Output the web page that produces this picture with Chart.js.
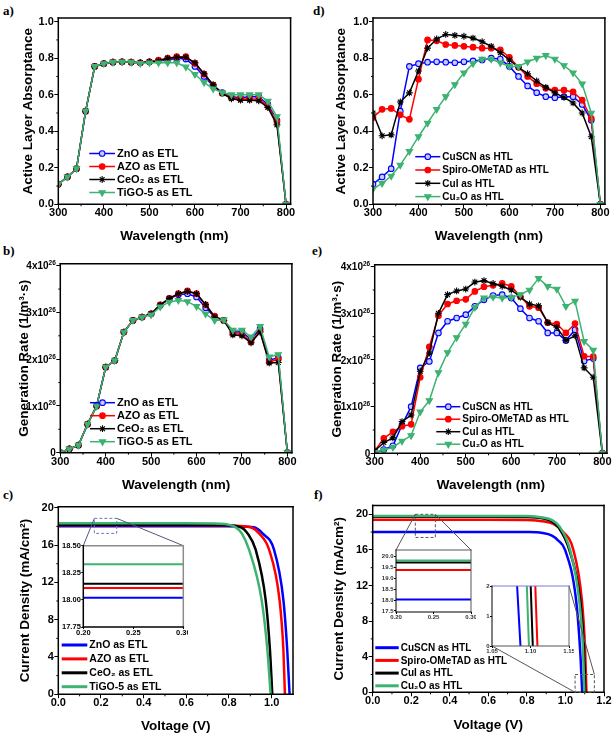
<!DOCTYPE html>
<html lang="en">
<head>
  <meta charset="UTF-8" />
  <meta name="viewport" content="width=device-width, initial-scale=1.0" />
  <title>ETL / HTL comparison: absorptance, generation rate, J-V</title>
  <style>
    body {
      margin: 0;
      width: 614px;
      height: 735px;
      overflow: hidden;
      position: relative;
      background: #fff;
    }
    canvas { position: absolute; }
    .tag {
      position: absolute;
      font: bold 13px 'Liberation Serif', 'Times New Roman', serif;
      line-height: 1;
      color: #000;
    }
  </style>
</head>
<body>
  <div class="tag" style="left:3px;top:4px">a)</div>
  <div class="tag" style="left:3px;top:244px">b)</div>
  <div class="tag" style="left:3px;top:488px">c)</div>
  <div class="tag" style="left:313px;top:4px">d)</div>
  <div class="tag" style="left:312px;top:244px">e)</div>
  <div class="tag" style="left:314px;top:488px">f)</div>

  <script src="https://cdn.jsdelivr.net/npm/chart.js"></script>
  <script>
    Chart.defaults.font.family = "'Liberation Sans', Arial, Helvetica, sans-serif";
    Chart.defaults.color = '#000';

    // ---------- data ----------
    const wavelength = [300, 320, 340, 360, 380, 400, 420, 440, 460, 480, 500, 520, 540, 560, 580, 600, 620, 640, 660, 680, 700, 720, 740, 760, 780, 800];

    // a) active layer absorptance, ETL variants
    const absZnO  = [0.11, 0.15, 0.195, 0.51, 0.755, 0.77, 0.778, 0.78, 0.778, 0.775, 0.78, 0.785, 0.79, 0.80, 0.795, 0.755, 0.70, 0.648, 0.611, 0.589, 0.584, 0.589, 0.589, 0.547, 0.46, 0];
    const absAZO  = [0.11, 0.15, 0.195, 0.51, 0.755, 0.77, 0.778, 0.78, 0.778, 0.775, 0.78, 0.79, 0.80, 0.808, 0.808, 0.772, 0.713, 0.653, 0.608, 0.584, 0.577, 0.577, 0.575, 0.538, 0.45, 0];
    const absCeO2 = [0.11, 0.15, 0.195, 0.51, 0.755, 0.77, 0.778, 0.78, 0.778, 0.775, 0.78, 0.785, 0.80, 0.805, 0.805, 0.775, 0.715, 0.655, 0.607, 0.578, 0.570, 0.570, 0.567, 0.53, 0.435, 0];
    const absTiGO = [0.11, 0.15, 0.195, 0.51, 0.755, 0.77, 0.778, 0.78, 0.778, 0.772, 0.775, 0.775, 0.775, 0.775, 0.752, 0.712, 0.667, 0.632, 0.612, 0.60, 0.60, 0.60, 0.60, 0.565, 0.48, 0];

    // d) active layer absorptance, HTL variants
    const absCuSCN = [0.11, 0.15, 0.195, 0.51, 0.755, 0.77, 0.778, 0.78, 0.778, 0.775, 0.78, 0.785, 0.79, 0.80, 0.795, 0.755, 0.70, 0.648, 0.611, 0.589, 0.584, 0.589, 0.589, 0.547, 0.46, 0];
    const absSpiro = [0.475, 0.52, 0.525, 0.49, 0.465, 0.685, 0.90, 0.895, 0.875, 0.87, 0.865, 0.86, 0.855, 0.855, 0.845, 0.805, 0.75, 0.70, 0.66, 0.635, 0.625, 0.625, 0.615, 0.57, 0.47, 0];
    const absCuI   = [0.50, 0.375, 0.38, 0.56, 0.61, 0.73, 0.855, 0.905, 0.93, 0.925, 0.92, 0.91, 0.89, 0.865, 0.83, 0.79, 0.75, 0.715, 0.675, 0.64, 0.61, 0.585, 0.555, 0.50, 0.37, 0];
    const absCu2O  = [0.085, 0.115, 0.155, 0.215, 0.29, 0.37, 0.445, 0.52, 0.59, 0.655, 0.72, 0.77, 0.795, 0.795, 0.775, 0.755, 0.755, 0.78, 0.80, 0.815, 0.795, 0.76, 0.72, 0.66, 0.50, 0];

    // b) generation rate, ETL variants (units of 1e26 1/m3s)
    const genZnO  = [0, 0.08, 0.16, 0.61, 1.0, 1.83, 1.97, 2.58, 2.83, 2.90, 2.97, 3.15, 3.29, 3.38, 3.40, 3.33, 3.10, 2.90, 2.83, 2.58, 2.58, 2.42, 2.65, 1.98, 2.03, 0];
    const genAZO  = [0, 0.08, 0.16, 0.61, 1.0, 1.83, 1.97, 2.58, 2.83, 2.90, 2.97, 3.16, 3.30, 3.40, 3.46, 3.40, 3.16, 2.92, 2.83, 2.55, 2.53, 2.37, 2.60, 1.94, 2.00, 0];
    const genCeO2 = [0, 0.08, 0.16, 0.61, 1.0, 1.83, 1.97, 2.58, 2.83, 2.90, 2.97, 3.16, 3.30, 3.40, 3.45, 3.40, 3.17, 2.90, 2.83, 2.52, 2.50, 2.35, 2.58, 1.92, 1.93, 0];
    const genTiGO = [0, 0.08, 0.16, 0.61, 1.0, 1.83, 1.97, 2.58, 2.83, 2.90, 2.95, 3.12, 3.22, 3.26, 3.23, 3.13, 2.97, 2.83, 2.84, 2.62, 2.62, 2.48, 2.70, 2.05, 2.10, 0];

    // e) generation rate, HTL variants (units of 1e26 1/m3s)
    const genCuSCN = [0, 0.08, 0.16, 0.61, 1.0, 1.83, 1.97, 2.58, 2.83, 2.90, 2.97, 3.15, 3.29, 3.38, 3.40, 3.33, 3.10, 2.90, 2.83, 2.58, 2.58, 2.42, 2.65, 1.98, 2.03, 0];
    const genSpiro = [0.05, 0.32, 0.46, 0.58, 0.62, 1.63, 2.28, 2.95, 3.20, 3.27, 3.30, 3.47, 3.57, 3.60, 3.64, 3.58, 3.36, 3.15, 3.12, 2.80, 2.77, 2.58, 2.78, 2.08, 2.07, 0];
    const genCuI   = [0.05, 0.23, 0.33, 0.68, 0.82, 1.76, 2.15, 3.00, 3.40, 3.48, 3.52, 3.67, 3.70, 3.64, 3.58, 3.50, 3.35, 3.20, 3.16, 2.80, 2.70, 2.42, 2.52, 1.83, 1.63, 0];
    const genCu2O  = [0.02, 0.07, 0.13, 0.26, 0.38, 0.89, 1.13, 1.73, 2.16, 2.48, 2.77, 3.13, 3.33, 3.35, 3.33, 3.34, 3.40, 3.50, 3.75, 3.58, 3.52, 3.15, 3.26, 2.40, 2.21, 0];

    // c) J-V curves, ETL variants (V, mA/cm2)
    const vZnO  = [0, 0.3, 0.6, 0.84, 0.918, 0.957, 1.011, 1.055, 1.073, 1.084];
    const jZnO  = [18.02, 18.02, 18.02, 18.0, 17.9, 17.25, 15.5, 10.1, 4.75, 0];
    const vAZO  = [0, 0.3, 0.6, 0.82, 0.902, 0.941, 0.988, 1.037, 1.055, 1.062];
    const jAZO  = [18.11, 18.11, 18.11, 18.08, 17.9, 17.25, 15.5, 10.1, 4.75, 0];
    const vCeO2 = [0, 0.3, 0.6, 0.78, 0.856, 0.887, 0.925, 0.972, 0.992, 1.003];
    const jCeO2 = [18.15, 18.15, 18.15, 18.12, 17.9, 17.25, 15.5, 10.1, 4.75, 0];
    const vTiGO = [0, 0.3, 0.6, 0.76, 0.832, 0.86, 0.894, 0.953, 0.98, 0.995];
    const jTiGO = [18.33, 18.33, 18.33, 18.29, 17.9, 17.25, 15.5, 10.1, 4.75, 0];

    // f) J-V curves, HTL variants (V, mA/cm2)
    const vCuSCN = [0, 0.3, 0.6, 0.8, 0.88, 0.93, 0.96, 0.998, 1.055, 1.076, 1.087];
    const jCuSCN = [18.02, 18.02, 18.02, 18.0, 17.9, 17.6, 17.1, 16.0, 10.4, 4.8, 0];
    const vSpiro = [0, 0.3, 0.6, 0.8, 0.89, 0.94, 0.98, 1.041, 1.085, 1.102, 1.109];
    const jSpiro = [19.38, 19.38, 19.38, 19.36, 19.2, 18.9, 18.2, 16.0, 10.4, 4.8, 0];
    const vCuI   = [0, 0.3, 0.6, 0.8, 0.88, 0.93, 0.965, 1.02, 1.076, 1.096, 1.103];
    const jCuI   = [19.73, 19.73, 19.73, 19.7, 19.55, 19.2, 18.5, 16.0, 10.4, 4.8, 0];
    const vCu2O  = [0, 0.3, 0.6, 0.8, 0.88, 0.93, 0.97, 1.024, 1.071, 1.091, 1.098];
    const jCu2O  = [19.82, 19.82, 19.82, 19.8, 19.65, 19.35, 18.6, 16.0, 10.4, 4.8, 0];

    // tick labels
    const wlTicks = [300, 400, 500, 600, 700, 800];
    const absTicks = [0, 0.2, 0.4, 0.6, 0.8, 1.0];
    const genTicks = [0, 1, 2, 3, 4];
    const voltTicksC = [0, 0.2, 0.4, 0.6, 0.8, 1.0];
    const voltTicksF = [0, 0.2, 0.4, 0.6, 0.8, 1.0, 1.2];
    const currTicks = [0, 4, 8, 12, 16, 20];
    const insetVoltTicks = [0.2, 0.25, 0.3];
    const insetCTicks = [17.75, 18.0, 18.25, 18.5];
    const insetF1Ticks = [17.5, 18.0, 18.5, 19.0, 19.5, 20.0];
    const insetF2VoltTicks = [1.05, 1.1, 1.15];
    const insetF2Ticks = [0, 1, 2];

    // ---------- styles ----------
    const BLUE = '#0000ff', RED = '#ff0000', BLACK = '#000000', GREEN = '#3cb371';
    const lineColors = [BLUE, RED, BLACK, GREEN];
    const markers = [
      { fill: '#c4ccff', shape: 'circle', radius: 2.8, rot: 0 },
      { fill: RED, shape: 'circle', radius: 2.8, rot: 0 },
      { fill: BLACK, shape: 'star', radius: 3.4, rot: 0 },
      { fill: GREEN, shape: 'triangle', radius: 3.6, rot: 180 }
    ];
    const FAMILY = "'Liberation Sans', Arial, sans-serif";
    const TICK_FONT = { size: 11, weight: 'bold' };
    const TITLE_SIZE = 13.5;
    const frameBlack = { width: 1.5, top: '#000', right: '#000', bottom: '#000', left: '#000' };

    function spectralSet(label, vals, k) {
      const m = markers[k];
      return {
        label,
        data: wavelength.map((w, i) => ({ x: w, y: vals[i] })),
        borderColor: lineColors[k],
        borderWidth: 1.5,
        pointStyle: m.shape,
        pointRadius: m.radius,
        pointRotation: m.rot,
        pointBackgroundColor: m.fill,
        pointBorderColor: lineColors[k],
        pointBorderWidth: 1.1,
        order: 3 - k
      };
    }

    function jvSet(label, vs, js, k, width) {
      return {
        label,
        data: vs.map((v, i) => ({ x: v, y: js[i] })),
        borderColor: lineColors[k],
        borderWidth: width,
        pointRadius: 0,
        cubicInterpolationMode: 'monotone',
        order: 3 - k
      };
    }

    function midpoints(t) {
      const m = [];
      for (let i = 0; i < t.length - 1; i++) m.push((t[i] + t[i + 1]) / 2);
      return m;
    }

    // ---------- plugins ----------
    function framePlugin(f) {
      return {
        id: 'frame',
        beforeDatasetsDraw(chart) {
          if (!f.fill) return;
          const a = chart.chartArea;
          chart.ctx.save();
          chart.ctx.fillStyle = f.fill;
          chart.ctx.fillRect(a.left, a.top, a.right - a.left, a.bottom - a.top);
          chart.ctx.restore();
        },
        afterDraw(chart) {
          const { ctx, chartArea: a } = chart;
          const side = (c, x1, y1, x2, y2) => {
            ctx.strokeStyle = c;
            ctx.beginPath();
            ctx.moveTo(x1, y1);
            ctx.lineTo(x2, y2);
            ctx.stroke();
          };
          ctx.save();
          ctx.lineWidth = f.width;
          ctx.lineCap = 'square';
          side(f.top, a.left, a.top, a.right, a.top);
          side(f.right, a.right, a.top, a.right, a.bottom);
          side(f.bottom, a.left, a.bottom, a.right, a.bottom);
          side(f.left, a.left, a.top, a.left, a.bottom);
          ctx.restore();
        }
      };
    }

    function minorTickPlugin(mx, my, len) {
      return {
        id: 'minorTicks',
        afterDraw(chart) {
          const { ctx, chartArea: a, scales } = chart;
          ctx.save();
          ctx.strokeStyle = '#000';
          ctx.lineWidth = 1;
          ctx.beginPath();
          mx.forEach(v => {
            const p = scales.x.getPixelForValue(v);
            ctx.moveTo(p, a.bottom);
            ctx.lineTo(p, a.bottom + len);
          });
          my.forEach(v => {
            const p = scales.y.getPixelForValue(v);
            ctx.moveTo(a.left - len, p);
            ctx.lineTo(a.left, p);
          });
          ctx.stroke();
          ctx.restore();
        }
      };
    }

    // y labels of the form 3x10^26 with a real raised exponent
    function powerLabelPlugin(p) {
      return {
        id: 'powerLabels',
        afterDraw(chart) {
          if (!p) return;
          const { ctx, chartArea: a, scales } = chart;
          const right = a.left - 4.5;
          ctx.save();
          ctx.fillStyle = '#000';
          ctx.textAlign = 'left';
          ctx.textBaseline = 'alphabetic';
          p.ticks.forEach(v => {
            const y = scales.y.getPixelForValue(v);
            ctx.font = 'bold 10px ' + FAMILY;
            if (v === 0) {
              ctx.fillText('0', right - ctx.measureText('0').width, y + 3.6);
              return;
            }
            const base = v + 'x10';
            const bw = ctx.measureText(base).width;
            ctx.font = 'bold 6.5px ' + FAMILY;
            const sw = ctx.measureText(p.exp).width;
            ctx.fillText(p.exp, right - sw, y - 0.5);
            ctx.font = 'bold 10px ' + FAMILY;
            ctx.fillText(base, right - sw - bw, y + 3.6);
          });
          ctx.restore();
        }
      };
    }

    function legendPlugin(L, box) {
      return {
        id: 'boxLegend',
        afterDraw(chart) {
          if (!L) return;
          const ctx = chart.ctx;
          const x0 = L.x - box.x;
          ctx.save();
          ctx.font = L.font;
          ctx.textBaseline = 'middle';
          ctx.textAlign = 'left';
          chart.data.datasets.forEach((ds, i) => {
            const y = L.y - box.y + i * L.dy;
            ctx.strokeStyle = ds.borderColor;
            ctx.lineWidth = L.lineWidth;
            ctx.beginPath();
            ctx.moveTo(x0, y);
            ctx.lineTo(x0 + L.len, y);
            ctx.stroke();
            if (ds.pointRadius > 0) {
              ctx.fillStyle = ds.pointBackgroundColor;
              ctx.strokeStyle = ds.pointBorderColor;
              ctx.lineWidth = ds.pointBorderWidth;
              Chart.helpers.drawPoint(ctx, {
                pointStyle: ds.pointStyle, radius: ds.pointRadius,
                rotation: ds.pointRotation, borderWidth: ds.pointBorderWidth
              }, x0 + L.len / 2, y);
            }
            ctx.fillStyle = '#000';
            ctx.fillText(ds.label, x0 + L.len + L.gap, y + 0.5);
          });
          ctx.restore();
        }
      };
    }

    // dashed zoom box on the main plot plus the lines running to the inset
    function linkPlugin(links, box) {
      return {
        id: 'zoomLinks',
        afterDraw(chart) {
          if (!links) return;
          const { ctx, scales } = chart;
          links.forEach(k => {
            const r = {
              l: scales.x.getPixelForValue(k.x0), r: scales.x.getPixelForValue(k.x1),
              t: scales.y.getPixelForValue(k.y1), b: scales.y.getPixelForValue(k.y0)
            };
            const i = { l: k.to.l - box.x, r: k.to.r - box.x, t: k.to.t - box.y, b: k.to.b - box.y };
            const pt = (q, c) => [c[1] === 'l' ? q.l : q.r, c[0] === 't' ? q.t : q.b];
            ctx.save();
            ctx.lineWidth = 1;
            ctx.strokeStyle = k.rectColor;
            ctx.setLineDash([3, 2]);
            ctx.strokeRect(r.l, r.t, r.r - r.l, r.b - r.t);
            ctx.setLineDash([]);
            ctx.strokeStyle = k.lineColor;
            k.pairs.forEach(([p, q]) => {
              const P = pt(r, p), Q = pt(i, q);
              ctx.beginPath();
              ctx.moveTo(P[0], P[1]);
              ctx.lineTo(Q[0], Q[1]);
              ctx.stroke();
            });
            ctx.restore();
          });
        }
      };
    }

    // ---------- chart factory ----------
    function makeChart(cfg) {
      const a = cfg.area;
      const box = cfg.box || {
        x: cfg.origin.x, y: cfg.origin.y, w: cfg.origin.w,
        h: Math.ceil(cfg.xTitleY + 10 - cfg.origin.y)
      };
      const canvas = document.createElement('canvas');
      canvas.width = box.w;
      canvas.height = box.h;
      canvas.style.left = box.x + 'px';
      canvas.style.top = box.y + 'px';
      if (cfg.inset) canvas.style.zIndex = 2;
      document.body.appendChild(canvas);

      const lh = TITLE_SIZE * 1.2;
      const xH = cfg.xTitle ? cfg.xTitleY + 9 - a.b : box.y + box.h - a.b;
      const yW = a.l - box.x;
      const tl = cfg.tickLen || 4;

      function axis(s, horizontal) {
        const title = horizontal
          ? { display: !!cfg.xTitle, text: cfg.xTitle, font: { size: TITLE_SIZE, weight: 'bold' },
              padding: { top: 0, bottom: a.b + xH - (cfg.xTitleY || 0) - lh / 2 } }
          : { display: !!cfg.yTitle, text: cfg.yTitle, font: { size: TITLE_SIZE, weight: 'bold' },
              padding: { top: (cfg.yTitleX || 0) - box.x - lh / 2, bottom: 0 } };
        return {
          type: 'linear',
          min: s.min,
          max: s.max,
          afterBuildTicks: sc => { sc.ticks = s.ticks.map(v => ({ value: v })); },
          afterFit: sc => {
            if (horizontal) sc.height = xH; else sc.width = yW;
            sc.paddingLeft = sc.paddingRight = sc.paddingTop = sc.paddingBottom = 0;
          },
          ticks: {
            callback: v => (s.fmt ? s.fmt(v) : ''),
            font: cfg.tickFont || TICK_FONT,
            color: cfg.tickColor || '#000',
            padding: horizontal ? (cfg.xPad ?? -1.5) : (cfg.yPad ?? 0.5),
            autoSkip: false, maxRotation: 0, minRotation: 0
          },
          grid: { drawOnChartArea: false, drawTicks: true, tickLength: tl, color: '#000', lineWidth: 1 },
          border: { display: false },
          title
        };
      }

      return new Chart(canvas, {
        type: 'line',
        data: { datasets: cfg.datasets },
        options: {
          responsive: false,
          animation: false,
          events: [],
          layout: {
            padding: { left: 0, top: a.t - box.y, right: box.x + box.w - a.r, bottom: box.y + box.h - a.b - xH }
          },
          plugins: { legend: { display: false }, tooltip: { enabled: false } },
          scales: { x: axis(cfg.x, true), y: axis(cfg.y, false) }
        },
        plugins: [
          framePlugin(cfg.frame || frameBlack),
          minorTickPlugin(cfg.minorX || [], cfg.minorY || [], 2),
          powerLabelPlugin(cfg.powerLabels),
          legendPlugin(cfg.legend, box),
          linkPlugin(cfg.links, box)
        ]
      });
    }

    const fmtWl = v => String(v);
    const fmt1 = v => v.toFixed(1);
    const fmt2 = v => v.toFixed(2);
    const fmtInt = v => String(v);

    const etlLabels = ['ZnO as ETL', 'AZO as ETL', 'CeO\u2082 as ETL', 'TiGO-5 as ETL'];
    const htlLabels = ['CuSCN as HTL', 'Spiro-OMeTAD as HTL', 'CuI as HTL', 'Cu\u2082O as HTL'];

    const insetAreaC = { l: 83.3, t: 545.7, r: 183.3, b: 627 };
    const insetAreaF1 = { l: 396, t: 550, r: 471, b: 612 };
    const insetAreaF2 = { l: 492, t: 586, r: 569, b: 646 };

    // a)
    makeChart({
      origin: { x: 0, y: 0, w: 300 },
      area: { l: 58.3, t: 18, r: 290.6, b: 204.3 },
      xTitle: 'Wavelength (nm)', xTitleY: 236,
      yTitle: 'Active Layer Absorptance', yTitleX: 28,
      x: { min: 300, max: 810, ticks: wlTicks, fmt: fmtWl },
      y: { min: 0, max: 1.02, ticks: absTicks, fmt: fmt1 },
      minorX: midpoints(wlTicks), minorY: midpoints(absTicks),
      datasets: [
        spectralSet(etlLabels[0], absZnO, 0),
        spectralSet(etlLabels[1], absAZO, 1),
        spectralSet(etlLabels[2], absCeO2, 2),
        spectralSet(etlLabels[3], absTiGO, 3)
      ],
      legend: { x: 89.3, y: 153.5, dy: 13, len: 25.7, gap: 2, lineWidth: 1.5, font: 'bold 11px ' + FAMILY }
    });

    // b)
    makeChart({
      origin: { x: 0, y: 240, w: 302 },
      area: { l: 60.3, t: 263.8, r: 291.9, b: 452.7 },
      xTitle: 'Wavelength (nm)', xTitleY: 485,
      yTitle: 'Generation Rate (1/m\u00B3\u00B7s)', yTitleX: 24.5,
      x: { min: 300, max: 810, ticks: wlTicks, fmt: fmtWl },
      y: { min: 0, max: 4.04, ticks: genTicks, fmt: null },
      powerLabels: { ticks: genTicks, exp: '26' },
      minorX: midpoints(wlTicks), minorY: midpoints(genTicks),
      datasets: [
        spectralSet(etlLabels[0], genZnO, 0),
        spectralSet(etlLabels[1], genAZO, 1),
        spectralSet(etlLabels[2], genCeO2, 2),
        spectralSet(etlLabels[3], genTiGO, 3)
      ],
      legend: { x: 90, y: 402.7, dy: 13, len: 25, gap: 2, lineWidth: 1.5, font: 'bold 11px ' + FAMILY }
    });

    // c)
    makeChart({
      origin: { x: 0, y: 490, w: 303 },
      area: { l: 58.3, t: 506.8, r: 293, b: 694.3 },
      xTitle: 'Voltage (V)', xTitleY: 726.5,
      yTitle: 'Current Density (mA/cm\u00B2)', yTitleX: 25,
      x: { min: 0, max: 1.1, ticks: voltTicksC, fmt: fmt1 },
      y: { min: 0, max: 20.1, ticks: currTicks, fmt: fmtInt },
      minorX: midpoints(voltTicksC), minorY: midpoints(currTicks),
      datasets: [
        jvSet(etlLabels[0], vZnO, jZnO, 0, 2.5),
        jvSet(etlLabels[1], vAZO, jAZO, 1, 2.5),
        jvSet(etlLabels[2], vCeO2, jCeO2, 2, 2.5),
        jvSet(etlLabels[3], vTiGO, jTiGO, 3, 2.5)
      ],
      legend: { x: 61.7, y: 645, dy: 13.9, len: 25.6, gap: 2, lineWidth: 3, font: 'bold 10.5px ' + FAMILY },
      links: [{ x0: 0.169, x1: 0.274, y0: 17.25, y1: 18.86, to: insetAreaC,
        pairs: [['tl', 'tl'], ['tr', 'tr']], rectColor: '#6b7bbd', lineColor: '#4f5680' }]
    });

    // d)
    makeChart({
      origin: { x: 307, y: 0, w: 307 },
      area: { l: 373, t: 18, r: 604.9, b: 204.3 },
      xTitle: 'Wavelength (nm)', xTitleY: 236,
      yTitle: 'Active Layer Absorptance', yTitleX: 341,
      x: { min: 300, max: 810, ticks: wlTicks, fmt: fmtWl },
      y: { min: 0, max: 1.02, ticks: absTicks, fmt: fmt1 },
      minorX: midpoints(wlTicks), minorY: midpoints(absTicks),
      datasets: [
        spectralSet(htlLabels[0], absCuSCN, 0),
        spectralSet(htlLabels[1], absSpiro, 1),
        spectralSet(htlLabels[2], absCuI, 2),
        spectralSet(htlLabels[3], absCu2O, 3)
      ],
      legend: { x: 415.3, y: 156.7, dy: 13.3, len: 25, gap: 2, lineWidth: 1.5, font: 'bold 10px ' + FAMILY }
    });

    // e)
    makeChart({
      origin: { x: 307, y: 240, w: 307 },
      area: { l: 374.7, t: 264.8, r: 606.9, b: 453.3 },
      xTitle: 'Wavelength (nm)', xTitleY: 485,
      yTitle: 'Generation Rate (1/m\u00B3\u00B7s)', yTitleX: 337,
      x: { min: 300, max: 810, ticks: wlTicks, fmt: fmtWl },
      y: { min: 0, max: 4.04, ticks: genTicks, fmt: null },
      powerLabels: { ticks: genTicks, exp: '26' },
      minorX: midpoints(wlTicks), minorY: midpoints(genTicks),
      datasets: [
        spectralSet(htlLabels[0], genCuSCN, 0),
        spectralSet(htlLabels[1], genSpiro, 1),
        spectralSet(htlLabels[2], genCuI, 2),
        spectralSet(htlLabels[3], genCu2O, 3)
      ],
      legend: { x: 436.3, y: 406.7, dy: 12.5, len: 24, gap: 2, lineWidth: 1.5, font: 'bold 10px ' + FAMILY }
    });

    // f)
    makeChart({
      origin: { x: 307, y: 490, w: 307 },
      area: { l: 372.7, t: 505.4, r: 604, b: 692.3 },
      xTitle: 'Voltage (V)', xTitleY: 725,
      yTitle: 'Current Density (mA/cm\u00B2)', yTitleX: 339,
      x: { min: 0, max: 1.2, ticks: voltTicksF, fmt: fmt1 },
      y: { min: 0, max: 21, ticks: currTicks, fmt: fmtInt },
      minorX: midpoints(voltTicksF), minorY: midpoints(currTicks),
      datasets: [
        jvSet(htlLabels[0], vCuSCN, jCuSCN, 0, 2.5),
        jvSet(htlLabels[1], vSpiro, jSpiro, 1, 2.5),
        jvSet(htlLabels[2], vCuI, jCuI, 2, 2.5),
        jvSet(htlLabels[3], vCu2O, jCu2O, 3, 2.5)
      ],
      legend: { x: 375.3, y: 647.7, dy: 12.7, len: 23.4, gap: 2, lineWidth: 3, font: 'bold 10px ' + FAMILY },
      links: [
        { x0: 0.221, x1: 0.325, y0: 17.4, y1: 20.0, to: insetAreaF1,
          pairs: [['tl', 'tl'], ['tr', 'tr']], rectColor: '#555', lineColor: '#555' },
        { x0: 1.05, x1: 1.15, y0: 0, y1: 2, to: insetAreaF2,
          pairs: [['bl', 'bl'], ['tr', 'tr']], rectColor: '#555', lineColor: '#555' }
      ]
    });

    // insets
    makeChart({
      inset: true,
      box: { x: 58, y: 539, w: 130, h: 100 },
      area: insetAreaC,
      x: { min: 0.2, max: 0.3, ticks: insetVoltTicks, fmt: fmt2 },
      y: { min: 17.75, max: 18.5, ticks: insetCTicks, fmt: fmt2 },
      tickFont: { size: 7.5, weight: 'bold' }, tickLen: 2, xPad: -0.5, yPad: 0.5,
      frame: { width: 1.5, top: '#8c8c8c', right: '#8c8c8c', bottom: '#000', left: '#000', fill: '#fff' },
      datasets: [
        jvSet(etlLabels[0], vZnO, jZnO, 0, 2),
        jvSet(etlLabels[1], vAZO, jAZO, 1, 2),
        jvSet(etlLabels[2], vCeO2, jCeO2, 2, 2),
        jvSet(etlLabels[3], vTiGO, jTiGO, 3, 2)
      ]
    });

    makeChart({
      inset: true,
      box: { x: 372, y: 545, w: 104, h: 76 },
      area: insetAreaF1,
      x: { min: 0.2, max: 0.3, ticks: insetVoltTicks, fmt: fmt2 },
      y: { min: 17.45, max: 20.3, ticks: insetF1Ticks, fmt: fmt1 },
      tickFont: { size: 6, weight: 'bold' }, tickColor: '#333', tickLen: 2, xPad: -0.5, yPad: 0.5,
      frame: { width: 1, top: '#555', right: '#555', bottom: '#000', left: '#000', fill: '#fff' },
      datasets: [
        jvSet(htlLabels[0], vCuSCN, jCuSCN, 0, 2),
        jvSet(htlLabels[1], vSpiro, jSpiro, 1, 2),
        jvSet(htlLabels[2], vCuI, jCuI, 2, 2),
        jvSet(htlLabels[3], vCu2O, jCu2O, 3, 2)
      ]
    });

    makeChart({
      inset: true,
      box: { x: 478, y: 581, w: 96, h: 76 },
      area: insetAreaF2,
      x: { min: 1.05, max: 1.15, ticks: insetF2VoltTicks, fmt: fmt2 },
      y: { min: 0, max: 2, ticks: insetF2Ticks, fmt: fmtInt },
      tickFont: { size: 6, weight: 'bold' }, tickColor: '#333', tickLen: 2, xPad: -0.5, yPad: 0.5,
      frame: { width: 1, top: '#7a7ae6', right: '#666', bottom: '#555', left: '#000', fill: '#fff' },
      datasets: [
        jvSet(htlLabels[0], vCuSCN, jCuSCN, 0, 2),
        jvSet(htlLabels[1], vSpiro, jSpiro, 1, 2),
        jvSet(htlLabels[2], vCuI, jCuI, 2, 2),
        jvSet(htlLabels[3], vCu2O, jCu2O, 3, 2)
      ]
    });
  </script>
</body>
</html>
